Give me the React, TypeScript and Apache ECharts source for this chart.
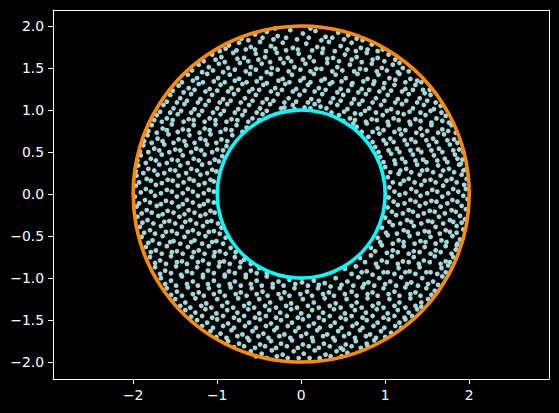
import React, { useEffect, useRef } from "react";
import * as echarts from "echarts";

const xTicks = [-2, -1, 0, 1, 2];
const yTicks = [-2, -1.5, -1, -0.5, 0, 0.5, 1, 1.5, 2];
const circleRadii = [2, 1];
const circleColors = ["#ff8c00", "#00ffff"];

const dotsTop = [
[-.55,1.9],[-.41,1.93],[-.28,1.88],[-.13,1.95],[.02,1.91],[.17,1.94],[.29,1.87],[.44,1.92],[.56,1.89],
[-.86,1.77],[-.74,1.8],[-.6,1.75],[-.49,1.81],[-.36,1.76],[-.22,1.8],[-.1,1.74],[.06,1.79],[.19,1.75],[.33,1.81],[.47,1.76],[.6,1.8],[.71,1.74],[.84,1.78],
[-1.06,1.66],[-.95,1.63],[-.81,1.68],[-.68,1.62],[-.54,1.67],[-.43,1.63],[-.29,1.68],[-.16,1.62],[-.03,1.67],[.1,1.63],[.25,1.68],[.38,1.62],[.52,1.66],[.66,1.63],[.78,1.68],[.91,1.62],[1.04,1.66],
[-1.22,1.54],[-1.1,1.51],[-.98,1.55],[-.87,1.5],[-.73,1.56],[-.6,1.51],[-.47,1.55],[-.35,1.5],[-.21,1.56],[-.08,1.51],[.05,1.55],[.18,1.49],[.31,1.56],[.43,1.51],[.58,1.54],[.7,1.49],[.84,1.55],[.96,1.5],[1.09,1.54],[1.21,1.5],
[-1.35,1.42],[-1.24,1.38],[-1.12,1.43],[-.99,1.38],[-.85,1.42],[-.74,1.37],[-.61,1.43],[-.48,1.38],[-.36,1.43],[-.22,1.37],[-.11,1.42],[.03,1.38],[.15,1.43],[.28,1.37],[.41,1.42],[.53,1.38],[.67,1.43],[.79,1.37],[.92,1.42],[1.05,1.38],[1.17,1.43],[1.3,1.37],
[-1.46,1.29],[-1.34,1.26],[-1.22,1.31],[-1.09,1.25],[-.96,1.3],[-.83,1.26],[-.7,1.31],[-.58,1.25],[-.45,1.3],[-.31,1.26],[-.19,1.31],[-.06,1.25],[.08,1.3],[.21,1.26],[.34,1.31],[.47,1.25],[.6,1.3],[.72,1.25],[.86,1.31],[.98,1.26],[1.11,1.3],[1.24,1.25],[1.36,1.3],[1.45,1.24],
[-1.56,1.18],[-1.44,1.14],[-1.31,1.19],[-1.2,1.13],[-1.06,1.18],[-.93,1.13],[-.8,1.19],[-.67,1.14],[-.54,1.18],[-.41,1.13],[-.28,1.19],[-.15,1.14],[-.02,1.18],[.12,1.13],[.25,1.19],[.38,1.14],[.5,1.18],[.63,1.13],[.77,1.19],[.89,1.14],[1.03,1.18],[1.15,1.13],[1.28,1.19],[1.41,1.14],[1.54,1.18],
[-1.64,1.06],[-1.52,1.02],[-1.39,1.07],[-1.27,1.01],[-1.14,1.06],[-1,1.02],[-.88,1.07],[-.75,1.01],[-.62,1.06],[-.49,1.02],[-.37,1.07],[-.24,1.02],[-.1,1.06],[.04,1.03],[.16,1.07],[.3,1.02],[.43,1.06],[.55,1.01],[.69,1.07],[.81,1.02],[.95,1.06],[1.07,1.01],[1.2,1.07],[1.33,1.02],[1.46,1.06],[1.58,1.01],[1.66,1.05],
];

const dotsUpperBand = [
[-1.72,.94],[-1.6,.9],[-1.47,.95],[-1.34,.89],[-1.22,.94],[-1.09,.9],[-.96,.95],[-.83,.89],[-.7,.94],[-.58,.9],[-.46,.95],[.45,.94],[.58,.9],[.71,.95],[.84,.89],[.97,.94],[1.1,.9],[1.22,.95],[1.36,.89],[1.48,.94],[1.61,.9],[1.72,.93],
[-1.78,.82],[-1.65,.78],[-1.54,.83],[-1.41,.77],[-1.28,.82],[-1.15,.78],[-1.02,.83],[-.9,.77],[-.77,.82],[-.65,.79],[.66,.8],[.78,.84],[.91,.78],[1.04,.82],[1.17,.77],[1.3,.83],[1.42,.78],[1.55,.82],[1.68,.77],[1.79,.82],
[-1.83,.7],[-1.71,.66],[-1.58,.71],[-1.46,.65],[-1.33,.7],[-1.2,.66],[-1.08,.71],[-.95,.65],[-.82,.7],[.8,.68],[.93,.72],[1.06,.66],[1.19,.71],[1.31,.65],[1.44,.7],[1.57,.66],[1.7,.71],[1.82,.65],
[-1.88,.58],[-1.75,.54],[-1.63,.59],[-1.5,.53],[-1.37,.58],[-1.25,.54],[-1.12,.59],[-1,.53],[-.89,.57],[.88,.56],[1.01,.6],[1.14,.54],[1.26,.59],[1.39,.53],[1.52,.58],[1.64,.54],[1.77,.59],[1.88,.53],
[-1.91,.46],[-1.79,.42],[-1.66,.47],[-1.54,.41],[-1.41,.46],[-1.28,.42],[-1.15,.47],[-1.03,.41],[-.94,.45],[.94,.44],[1.07,.48],[1.2,.42],[1.33,.47],[1.45,.41],[1.58,.46],[1.71,.42],[1.83,.47],[1.92,.41],
[-1.94,.34],[-1.82,.3],[-1.69,.35],[-1.56,.29],[-1.44,.34],[-1.31,.3],[-1.18,.35],[-1.06,.29],[1,.32],[1.12,.36],[1.25,.3],[1.38,.35],[1.5,.29],[1.63,.34],[1.76,.3],[1.88,.35],[1.95,.29],
[-1.96,.22],[-1.84,.18],[-1.71,.23],[-1.59,.17],[-1.46,.22],[-1.33,.18],[-1.2,.23],[-1.08,.17],[1.03,.2],[1.16,.24],[1.28,.18],[1.41,.23],[1.54,.17],[1.66,.22],[1.79,.18],[1.91,.23],
[-1.97,.1],[-1.85,.06],[-1.73,.11],[-1.6,.05],[-1.47,.1],[-1.35,.06],[-1.22,.11],[-1.1,.05],[1.05,.08],[1.18,.12],[1.31,.06],[1.43,.11],[1.56,.05],[1.69,.1],[1.81,.06],[1.94,.11],
];

const dotsLowerBand = [
[-1.98,-.03],[-1.86,-.07],[-1.74,-.02],[-1.61,-.08],[-1.48,-.03],[-1.36,-.07],[-1.23,-.02],[-1.11,-.08],[1.04,-.04],[1.17,-.01],[1.3,-.07],[1.42,-.02],[1.55,-.08],[1.68,-.03],[1.8,-.07],[1.93,-.02],
[-1.96,-.15],[-1.84,-.19],[-1.72,-.14],[-1.59,-.2],[-1.46,-.15],[-1.34,-.19],[-1.21,-.14],[-1.08,-.2],[1.03,-.16],[1.15,-.13],[1.28,-.19],[1.41,-.14],[1.53,-.2],[1.66,-.15],[1.79,-.19],[1.91,-.14],
[-1.95,-.27],[-1.83,-.31],[-1.7,-.26],[-1.57,-.32],[-1.45,-.27],[-1.32,-.31],[-1.2,-.26],[-1.07,-.32],[1,-.28],[1.13,-.25],[1.26,-.31],[1.39,-.26],[1.51,-.32],[1.64,-.27],[1.77,-.31],[1.89,-.26],
[-1.92,-.39],[-1.8,-.43],[-1.67,-.38],[-1.54,-.44],[-1.42,-.39],[-1.29,-.43],[-1.17,-.38],[-1.04,-.44],[-.95,-.4],[.96,-.4],[1.09,-.37],[1.22,-.43],[1.34,-.38],[1.47,-.44],[1.6,-.39],[1.72,-.43],[1.85,-.38],[1.93,-.42],
[-1.9,-.51],[-1.77,-.55],[-1.65,-.5],[-1.52,-.56],[-1.39,-.51],[-1.27,-.55],[-1.14,-.5],[-1.01,-.56],[-.9,-.52],[.91,-.52],[1.03,-.49],[1.16,-.55],[1.29,-.5],[1.42,-.56],[1.54,-.51],[1.67,-.55],[1.8,-.5],[1.89,-.54],
[-1.85,-.63],[-1.73,-.67],[-1.6,-.62],[-1.48,-.68],[-1.35,-.63],[-1.22,-.67],[-1.1,-.62],[-.97,-.68],[-.84,-.64],[.83,-.64],[.96,-.61],[1.09,-.67],[1.22,-.62],[1.34,-.68],[1.47,-.63],[1.6,-.67],[1.72,-.62],[1.84,-.66],
[-1.8,-.75],[-1.68,-.79],[-1.55,-.74],[-1.42,-.8],[-1.3,-.75],[-1.17,-.79],[-1.04,-.74],[-.92,-.8],[-.79,-.75],[-.68,-.78],[.7,-.76],[.83,-.73],[.96,-.79],[1.08,-.74],[1.21,-.8],[1.34,-.75],[1.46,-.79],[1.59,-.74],[1.72,-.8],[1.81,-.75],
[-1.74,-.87],[-1.62,-.91],[-1.49,-.86],[-1.36,-.92],[-1.24,-.87],[-1.11,-.91],[-.98,-.86],[-.86,-.92],[-.73,-.87],[-.6,-.91],[-.5,-.88],[.52,-.89],[.65,-.86],[.78,-.92],[.91,-.87],[1.03,-.93],[1.16,-.88],[1.29,-.92],[1.41,-.87],[1.54,-.93],[1.67,-.88],[1.75,-.85],
[-1.67,-1],[-1.55,-1.03],[-1.42,-.98],[-1.29,-1.04],[-1.17,-.99],[-1.04,-1.03],[-.91,-.98],[-.79,-1.04],[-.66,-.99],[-.53,-1.03],[-.41,-.98],[-.27,-1.04],[-.14,-1.02],[.01,-1.05],[.15,-1.03],[.28,-1.06],[.41,-1],[.55,-1.04],[.68,-.99],[.8,-1.05],[.93,-1],[1.06,-1.04],[1.19,-.99],[1.31,-1.05],[1.44,-1],[1.57,-1.04],[1.68,-.98],
];

const dotsBottom = [
[-1.6,-1.12],[-1.48,-1.16],[-1.35,-1.11],[-1.22,-1.17],[-1.1,-1.12],[-.97,-1.16],[-.84,-1.11],[-.72,-1.17],[-.59,-1.12],[-.46,-1.16],[-.34,-1.11],[-.2,-1.17],[-.08,-1.12],[.07,-1.16],[.2,-1.12],[.33,-1.17],[.46,-1.12],[.6,-1.16],[.73,-1.11],[.85,-1.17],[.98,-1.12],[1.11,-1.16],[1.24,-1.11],[1.36,-1.17],[1.49,-1.12],[1.59,-1.15],
[-1.5,-1.25],[-1.38,-1.29],[-1.26,-1.24],[-1.13,-1.3],[-1,-1.25],[-.88,-1.29],[-.75,-1.24],[-.62,-1.3],[-.5,-1.25],[-.37,-1.29],[-.24,-1.24],[-.12,-1.3],[.02,-1.25],[.15,-1.29],[.28,-1.24],[.41,-1.3],[.54,-1.25],[.66,-1.29],[.79,-1.24],[.92,-1.3],[1.05,-1.25],[1.17,-1.29],[1.3,-1.24],[1.43,-1.29],[1.51,-1.25],
[-1.38,-1.38],[-1.26,-1.41],[-1.14,-1.37],[-1.01,-1.42],[-.88,-1.38],[-.76,-1.41],[-.63,-1.37],[-.5,-1.42],[-.38,-1.38],[-.25,-1.41],[-.12,-1.37],[0,-1.42],[.13,-1.38],[.26,-1.41],[.39,-1.37],[.52,-1.42],[.64,-1.38],[.77,-1.41],[.9,-1.37],[1.03,-1.42],[1.15,-1.38],[1.28,-1.41],[1.38,-1.37],
[-1.24,-1.5],[-1.12,-1.53],[-1,-1.49],[-.87,-1.54],[-.74,-1.5],[-.62,-1.53],[-.49,-1.49],[-.36,-1.54],[-.24,-1.5],[-.11,-1.53],[.02,-1.49],[.15,-1.54],[.27,-1.5],[.4,-1.53],[.53,-1.49],[.66,-1.54],[.78,-1.5],[.91,-1.53],[1.04,-1.49],[1.17,-1.53],[1.24,-1.49],
[-1.08,-1.63],[-.96,-1.66],[-.83,-1.62],[-.7,-1.67],[-.58,-1.63],[-.45,-1.66],[-.32,-1.62],[-.2,-1.67],[-.07,-1.63],[.06,-1.66],[.19,-1.62],[.31,-1.67],[.44,-1.63],[.57,-1.66],[.7,-1.62],[.82,-1.67],[.95,-1.63],[1.07,-1.65],
[-.87,-1.75],[-.74,-1.78],[-.62,-1.74],[-.49,-1.79],[-.36,-1.75],[-.24,-1.78],[-.11,-1.74],[.02,-1.79],[.14,-1.75],[.27,-1.78],[.4,-1.74],[.53,-1.79],[.65,-1.75],[.78,-1.78],[.87,-1.74],
[-.6,-1.87],[-.47,-1.9],[-.35,-1.86],[-.22,-1.91],[-.09,-1.87],[.03,-1.9],[.16,-1.86],[.29,-1.91],[.42,-1.87],[.55,-1.89],[-.16,-1.95],[.1,-1.95],
];

const dotsGapsNorth = [
[-.71,1.85],[-.63,1.83],[-.46,1.86],[-.33,1.84],[-.31,1.97],[-.18,1.86],[-.05,1.84],[.09,1.86],[.11,1.97],[.24,1.83],[.37,1.86],[.51,1.84],[.66,1.85],[.73,1.83],
[-.97,1.7],[-.9,1.73],[-.77,1.71],[-.66,1.72],[-.55,1.72],[-.42,1.7],[-.31,1.73],[-.18,1.71],[-.04,1.72],[.13,1.71],[.26,1.73],[.4,1.7],[.55,1.72],[.65,1.7],[.79,1.72],[.91,1.7],[.97,1.72],
[-1.16,1.58],[-1.02,1.6],[-.91,1.57],[-.76,1.61],[-.63,1.58],[-.51,1.6],[-.37,1.57],[-.25,1.61],[-.12,1.58],[.02,1.6],[.15,1.58],[.31,1.61],[.45,1.58],[.6,1.6],[.72,1.57],[.85,1.6],[.99,1.58],[1.12,1.6],[1.17,1.56],
[-1.3,1.47],[-1.18,1.45],[-1.05,1.47],[-.93,1.45],[-.79,1.48],[-.66,1.46],[-.54,1.48],[-.41,1.45],[-.28,1.48],[-.15,1.46],[-.01,1.48],[.11,1.46],[.24,1.49],[.37,1.46],[.49,1.47],[.63,1.46],[.77,1.48],[.9,1.46],[1.02,1.47],[1.15,1.45],[1.28,1.46],
[-1.42,1.33],[-1.29,1.35],[-1.17,1.33],[-1.04,1.34],[-.91,1.33],[-.79,1.35],[-.65,1.33],[-.53,1.34],[-.41,1.32],[-.27,1.35],[-.14,1.33],[-.01,1.35],[.11,1.33],[.24,1.35],[.37,1.33],[.48,1.34],[.61,1.32],[.74,1.34],[.87,1.34],[.99,1.32],[1.12,1.36],[1.24,1.33],[1.38,1.35],[1.43,1.33],
[-1.53,1.23],[-1.4,1.21],[-1.27,1.24],[-1.14,1.22],[-1,1.23],[-.87,1.22],[-.75,1.24],[-.62,1.22],[-.5,1.24],[-.36,1.22],[-.23,1.24],[-.1,1.22],[.04,1.23],[.16,1.22],[.29,1.24],[.43,1.21],[.56,1.23],[.68,1.21],[.81,1.24],[.93,1.22],[1.07,1.23],[1.2,1.22],[1.33,1.24],[1.47,1.2],[1.53,1.24],
[-1.6,1.1],[-1.48,1.09],[-1.36,1.11],[-1.23,1.09],[-1.1,1.11],[-.97,1.09],[-.84,1.11],[-.72,1.09],[-.58,1.11],[-.46,1.09],[-.33,1.11],[-.2,1.09],[-.06,1.1],[.08,1.09],[.21,1.11],[.35,1.09],[.47,1.11],[.6,1.08],[.73,1.11],[.85,1.09],[.99,1.11],[1.12,1.09],[1.25,1.11],[1.38,1.09],[1.5,1.11],[1.6,1.09],
[-1.68,.98],[-1.56,.97],[-1.43,.99],[-1.31,.97],[-1.18,.99],[-1.05,.97],[-.92,.99],[-.79,.97],[-.67,.99],[-.53,.97],[-.41,.99],[-.2,1.03],[-.08,1.01],[.11,1.02],[.23,1.04],[.36,.97],[.51,.98],[.64,.96],[.76,.99],[.89,.97],[1.02,.99],[1.15,.97],[1.29,.98],[1.42,.97],[1.54,.99],[1.67,.97],
];

const dotsGapsEast = [
[.5,.87],[.64,.88],[.77,.86],[.9,.88],[1.03,.86],[1.16,.88],[1.29,.86],[1.42,.87],[1.55,.85],[1.68,.87],[1.76,.85],
[.62,.84],[.72,.74],[.85,.74],[.98,.76],[1.11,.74],[1.24,.76],[1.37,.73],[1.5,.75],[1.63,.73],[1.75,.75],[1.84,.73],
[.85,.62],[.98,.64],[1.1,.62],[1.23,.64],[1.36,.62],[1.49,.64],[1.61,.62],[1.74,.64],[1.86,.61],[1.93,.5],
[.92,.5],[1.04,.52],[1.17,.5],[1.3,.52],[1.43,.5],[1.55,.52],[1.68,.5],[1.81,.52],[1.86,.42],
[.98,.38],[1.11,.4],[1.24,.38],[1.36,.4],[1.49,.38],[1.62,.4],[1.74,.38],[1.9,.36],[1.97,.18],
[1.06,.26],[1.18,.28],[1.31,.26],[1.44,.28],[1.57,.26],[1.69,.28],[1.82,.26],[1.93,.28],
[1.09,.14],[1.22,.16],[1.35,.14],[1.47,.16],[1.6,.14],[1.73,.16],[1.85,.14],[1.96,.06],
[1.11,.03],[1.24,.01],[1.37,.03],[1.5,.01],[1.62,.03],[1.75,.01],[1.87,.03],[1.98,-.06],
[1.1,-.09],[1.23,-.11],[1.36,-.09],[1.48,-.11],[1.61,-.09],[1.74,-.11],[1.86,-.09],[1.96,-.18],
[1.08,-.21],[1.21,-.23],[1.33,-.21],[1.46,-.23],[1.59,-.21],[1.71,-.23],[1.84,-.21],[1.95,-.3],
[1.05,-.33],[1.18,-.35],[1.31,-.33],[1.43,-.35],[1.56,-.33],[1.69,-.35],[1.81,-.33],[1.91,-.34],
[1.01,-.46],[1.14,-.47],[1.27,-.45],[1.39,-.47],[1.52,-.45],[1.65,-.47],[1.77,-.45],[1.85,-.46],
[.94,-.57],[1.09,-.59],[1.22,-.57],[1.35,-.59],[1.48,-.57],[1.6,-.59],[1.73,-.57],[1.86,-.59],
[.88,-.68],[1.02,-.7],[1.15,-.69],[1.28,-.71],[1.41,-.69],[1.54,-.71],[1.66,-.69],[1.79,-.71],[1.85,-.61],
[.76,-.81],[.89,-.83],[1.02,-.81],[1.15,-.83],[1.28,-.81],[1.4,-.83],[1.53,-.81],[1.66,-.83],[1.77,-.81],
[.6,-.95],[.72,-.93],[.85,-.96],[.98,-.93],[1.11,-.95],[1.24,-.93],[1.36,-.95],[1.49,-.93],[1.62,-.95],[1.72,-.93],
];

const dotsGapsWest = [
[-1.75,.88],[-1.66,.86],[-1.53,.88],[-1.4,.86],[-1.28,.88],[-1.15,.86],[-1.02,.88],[-.89,.86],[-.76,.88],[-.63,.86],[-.5,.88],
[-1.82,.75],[-1.72,.73],[-1.6,.76],[-1.47,.74],[-1.34,.76],[-1.21,.73],[-1.09,.76],[-.96,.74],[-.83,.76],[-.7,.74],
[-1.87,.63],[-1.78,.61],[-1.65,.63],[-1.52,.61],[-1.39,.63],[-1.27,.61],[-1.14,.64],[-1.01,.61],[-.88,.63],
[-1.92,.51],[-1.82,.5],[-1.69,.52],[-1.57,.5],[-1.44,.52],[-1.31,.5],[-1.19,.52],[-1.06,.5],[-.93,.52],
[-1.95,.4],[-1.85,.37],[-1.73,.4],[-1.6,.37],[-1.47,.4],[-1.35,.37],[-1.22,.4],[-1.09,.37],[-.98,.39],
[-1.97,.27],[-1.88,.25],[-1.75,.28],[-1.63,.25],[-1.5,.28],[-1.37,.25],[-1.24,.28],[-1.12,.25],[-1.01,.27],
[-1.93,.14],[-1.79,.16],[-1.66,.13],[-1.53,.16],[-1.4,.14],[-1.28,.16],[-1.15,.13],[-1.04,.15],
[-1.91,.02],[-1.79,.03],[-1.67,.01],[-1.54,.03],[-1.41,.01],[-1.29,.03],[-1.16,.01],[-1.04,.03],
[-1.93,-.11],[-1.8,-.1],[-1.67,-.12],[-1.54,-.1],[-1.41,-.12],[-1.29,-.1],[-1.16,-.12],[-1.04,-.1],
[-1.9,-.23],[-1.78,-.22],[-1.65,-.24],[-1.52,-.22],[-1.39,-.24],[-1.27,-.22],[-1.14,-.24],[-1.03,-.22],
[-1.89,-.34],[-1.76,-.35],[-1.63,-.33],[-1.5,-.35],[-1.38,-.33],[-1.25,-.35],[-1.12,-.33],[-.99,-.35],
[-1.87,-.46],[-1.74,-.47],[-1.61,-.45],[-1.48,-.47],[-1.35,-.45],[-1.22,-.47],[-1.1,-.45],[-.97,-.47],
[-1.82,-.58],[-1.69,-.59],[-1.56,-.57],[-1.44,-.59],[-1.31,-.57],[-1.18,-.59],[-1.06,-.57],[-.93,-.59],
[-1.79,-.69],[-1.66,-.71],[-1.54,-.69],[-1.41,-.71],[-1.28,-.69],[-1.15,-.71],[-1.03,-.69],[-.9,-.71],[-.78,-.69],
[-1.74,-.82],[-1.61,-.83],[-1.48,-.81],[-1.36,-.83],[-1.23,-.81],[-1.1,-.83],[-.97,-.81],[-.85,-.83],[-.72,-.81],[-.6,-.83],
[-1.68,-.95],[-1.55,-.94],[-1.43,-.96],[-1.3,-.94],[-1.17,-.96],[-1.04,-.94],[-.91,-.96],[-.79,-.94],[-.66,-.96],[-.53,-.94],[-.41,-.94],
];

const dotsGapsSouth = [
[-1.62,-1.07],[-1.49,-1.09],[-1.36,-1.07],[-1.23,-1.09],[-1.11,-1.07],[-.98,-1.09],[-.85,-1.07],[-.72,-1.09],[-.6,-1.07],[-.47,-1.09],[-.34,-1.07],[-.21,-1.09],[-.07,-1.07],[.08,-1.09],[.21,-1.08],[.35,-1.1],[.48,-1.08],[.62,-1.09],[.75,-1.07],[.87,-1.09],[1,-1.07],[1.13,-1.09],[1.26,-1.07],[1.39,-1.09],[1.51,-1.07],[1.63,-1.08],
[-1.55,-1.2],[-1.42,-1.21],[-1.29,-1.19],[-1.16,-1.21],[-1.04,-1.19],[-.91,-1.21],[-.78,-1.19],[-.65,-1.21],[-.53,-1.19],[-.4,-1.21],[-.27,-1.19],[-.14,-1.21],[-.01,-1.19],[.13,-1.21],[.26,-1.19],[.39,-1.21],[.52,-1.19],[.66,-1.21],[.79,-1.19],[.91,-1.21],[1.04,-1.19],[1.17,-1.21],[1.3,-1.19],[1.42,-1.21],[1.55,-1.2],
[-1.44,-1.33],[-1.32,-1.35],[-1.19,-1.33],[-1.07,-1.35],[-.94,-1.33],[-.81,-1.35],[-.68,-1.33],[-.56,-1.35],[-.43,-1.33],[-.3,-1.35],[-.18,-1.33],[-.05,-1.35],[.08,-1.33],[.21,-1.35],[.34,-1.33],[.47,-1.35],[.6,-1.33],[.72,-1.35],[.85,-1.33],[.98,-1.35],[1.11,-1.33],[1.24,-1.35],[1.36,-1.33],[1.43,-1.34],
[-1.31,-1.46],[-1.18,-1.45],[-1.06,-1.47],[-.93,-1.45],[-.8,-1.47],[-.68,-1.45],[-.55,-1.47],[-.42,-1.45],[-.3,-1.47],[-.17,-1.45],[-.04,-1.47],[.09,-1.45],[.21,-1.47],[.34,-1.45],[.47,-1.47],[.6,-1.45],[.73,-1.47],[.85,-1.45],[.98,-1.47],[1.11,-1.45],[1.23,-1.47],[1.32,-1.45],
[-1.18,-1.57],[-1.05,-1.59],[-.93,-1.57],[-.8,-1.59],[-.67,-1.57],[-.54,-1.59],[-.42,-1.57],[-.29,-1.59],[-.16,-1.57],[-.03,-1.59],[.09,-1.57],[.22,-1.59],[.35,-1.57],[.48,-1.59],[.61,-1.57],[.73,-1.59],[.86,-1.57],[.99,-1.59],[1.12,-1.57],[1.19,-1.59],
[-1.01,-1.7],[-.89,-1.71],[-.76,-1.69],[-.64,-1.71],[-.51,-1.69],[-.39,-1.71],[-.26,-1.69],[-.13,-1.71],[0,-1.69],[.13,-1.71],[.26,-1.69],[.38,-1.71],[.51,-1.69],[.64,-1.71],[.77,-1.69],[.89,-1.71],[1,-1.7],
[-.8,-1.82],[-.68,-1.81],[-.55,-1.83],[-.43,-1.81],[-.3,-1.83],[-.17,-1.81],[-.04,-1.83],[.09,-1.81],[.21,-1.83],[.34,-1.81],[.47,-1.83],[.6,-1.81],[.71,-1.83],[.79,-1.81],
[-.54,-1.93],[-.41,-1.95],[-.29,-1.93],[-.03,-1.95],[.22,-1.95],[.35,-1.93],[.48,-1.93],[.5,-1.85],
];

const dots = [...dotsTop, ...dotsUpperBand, ...dotsLowerBand, ...dotsBottom, ...dotsGapsNorth, ...dotsGapsEast, ...dotsGapsWest, ...dotsGapsSouth];

const minusLabel = (v: number, digits: number) => v.toFixed(digits).replace("-", "\u2212");

export default function App() {
  const ref = useRef<HTMLDivElement>(null);
  useEffect(() => {
    document.body.style.margin = "0";
    document.body.style.background = "#000";
    const chart = echarts.init(ref.current!, undefined, { renderer: "svg" });
    const labelStyle = { color: "#ffffff", fontFamily: "DejaVu Sans", fontSize: 13.9 };
    const line = { lineStyle: { color: "#ffffff", width: 1 } };
    const hidden = { axisTick: { show: false }, axisLabel: { show: false }, splitLine: { show: false } };
    const xRange = { type: "value", min: -2.955, max: 2.95 };
    const yRange = { type: "value", min: -2.2, max: 2.19 };
    chart.setOption({
      animation: false,
      backgroundColor: "#000000",
      grid: { left: 53, top: 10, width: 496, height: 369 },
      xAxis: [
        {
          ...xRange, position: "bottom",
          splitLine: { show: false },
          axisLine: { show: true, onZero: false, ...line },
          axisTick: { show: true, length: 5, customValues: xTicks, ...line },
          axisLabel: { ...labelStyle, margin: 9, customValues: xTicks, formatter: (v: number) => minusLabel(v, 0) },
        },
        { ...xRange, position: "top", axisLine: { show: true, onZero: false, ...line }, ...hidden },
      ],
      yAxis: [
        {
          ...yRange, position: "left",
          splitLine: { show: false },
          axisLine: { show: true, onZero: false, ...line },
          axisTick: { show: true, length: 5, customValues: yTicks, ...line },
          axisLabel: { ...labelStyle, margin: 9, customValues: yTicks, formatter: (v: number) => minusLabel(v, 1) },
        },
        { ...yRange, position: "right", axisLine: { show: true, onZero: false, ...line }, ...hidden },
      ],
      series: [
        {
          type: "scatter", data: dots, symbol: "circle", symbolSize: 4.8,
          itemStyle: { color: "#a3d8da", opacity: 1 }, silent: true, z: 2,
        },
        {
          type: "custom", coordinateSystem: "cartesian2d", z: 3, silent: true, clip: false,
          data: circleRadii.map((r, i) => [0, 0, r, i]),
          renderItem: (_p: any, api: any) => {
            const c = api.coord([api.value(0), api.value(1)]);
            const s = api.size([api.value(2), api.value(2)]);
            return {
              type: "circle",
              shape: { cx: c[0], cy: c[1], r: s[0] },
              style: { fill: "none", stroke: circleColors[api.value(3)], lineWidth: 3.6 },
            };
          },
        },
      ],
    });
    return () => chart.dispose();
  }, []);
  return <div ref={ref} style={{ width: 559, height: 413 }} />;
}
